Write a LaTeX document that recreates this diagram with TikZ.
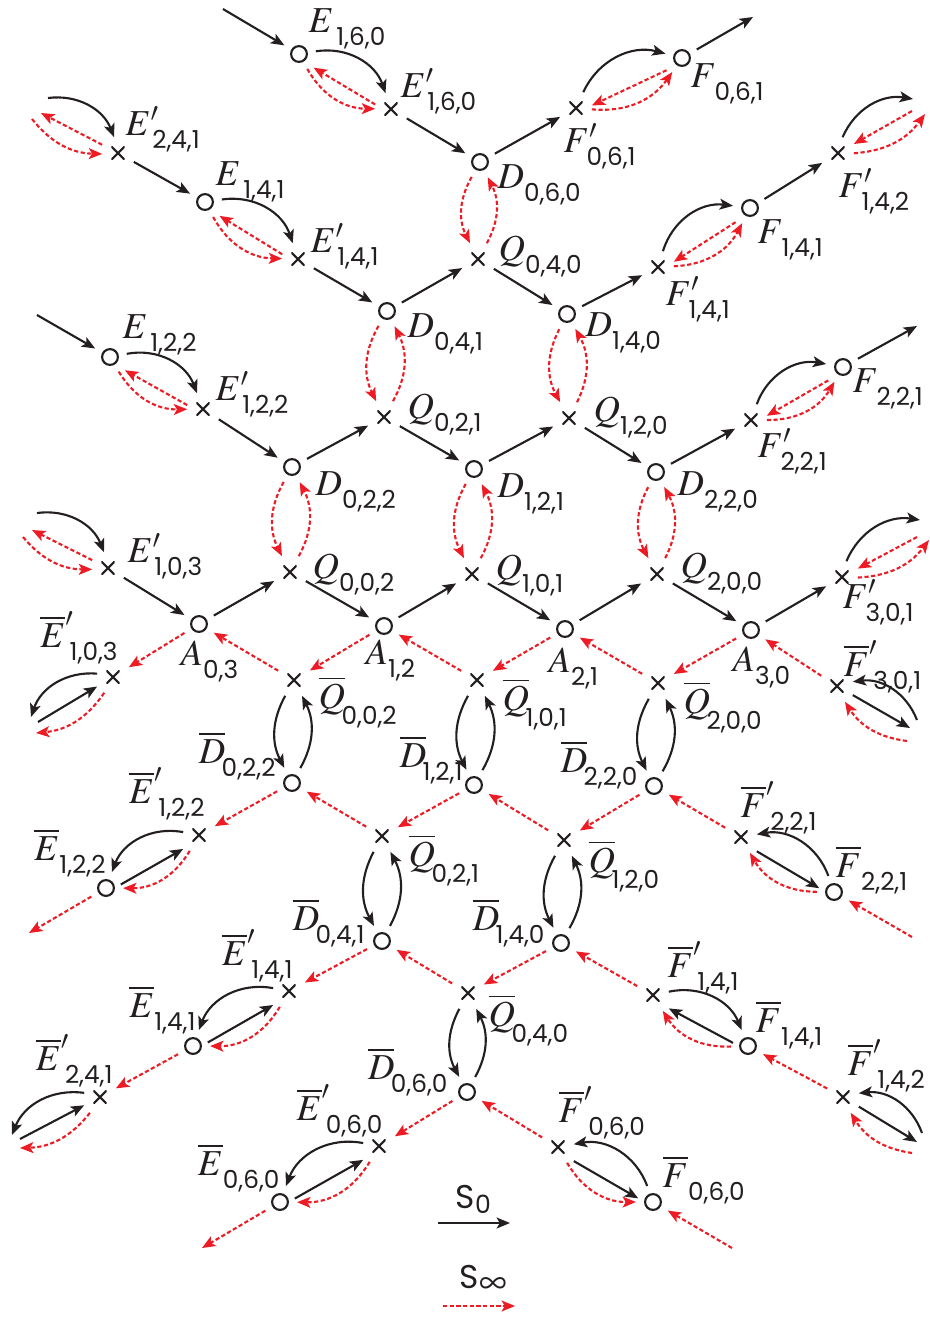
\documentclass[tikz,border=0pt]{standalone}
\usepackage{amsmath}
\usepackage{mathptmx}
\usepackage{fontspec}
\newfontfamily\subsf{Poppins}[Scale=1.1]
\usepackage{tikz}
\usetikzlibrary{arrows.meta}
\usepackage{xcolor}
\definecolor{ink}{RGB}{35,31,32}
\definecolor{sred}{RGB}{237,28,36}
\newcommand{\ix}[2][1.5pt]{\text{\kern#1\raisebox{-2.4pt}{\subsf\fontsize{6.4}{7}\selectfont #2}}}
\newcommand{\ixp}[2][1.2pt]{\text{\kern#1\raisebox{-1.2pt}{\subsf\fontsize{6.4}{7}\selectfont #2}}}

\begin{document}
\begin{tikzpicture}[
    x = 0.01cm, y = -0.01cm,
    every node/.style = {inner sep=0pt},
    st/.style    = {circle, draw=ink, line width=0.6pt, minimum size=4.5pt, outer sep=2.6pt},
    xs/.style    = {rectangle, minimum size=3.8pt, outer sep=2.6pt,
                    path picture={\draw[ink, line width=0.6pt]
                      (path picture bounding box.south west) -- (path picture bounding box.north east)
                      (path picture bounding box.north west) -- (path picture bounding box.south east);}},
    lbl/.style   = {text=ink, font=\fontsize{10.4}{12}\selectfont},
    key/.style   = {text=ink, font=\subsf\fontsize{8.5}{9}\selectfont},
    szero/.style = {-{Stealth[length=3.8pt,width=3.1pt,inset=0.9pt]}, line width=0.6pt, draw=ink},
    sinf/.style  = {szero, draw=sred, dash pattern=on 1.2pt off 0.7pt},
    lower/.style = {transform canvas={yshift=-1.4pt}},
]
\useasboundingbox (0,0) rectangle (930,1320);

%% Upper half: circles and crosses
\node[st] (E160)  at (299,54)  {};
\node[xs] (E160p) at (391,109) {};
\node[st] (D060)  at (480,162) {};
\node[xs] (Q040)  at (478,259) {};
\node[st] (D041)  at (387,311) {};
\node[st] (D140)  at (567,314) {};
\node[xs] (E241p) at (118,153) {};
\node[st] (E141)  at (205,202) {};
\node[xs] (E141p) at (298,259) {};
\node[xs] (F061p) at (576,108) {};
\node[st] (F061)  at (682,58)  {};
\node[xs] (F141p) at (658,267) {};
\node[st] (F141)  at (750,208) {};
\node[xs] (F142p) at (838,153) {};
\node[st] (E122)  at (110,357) {};
\node[xs] (E122p) at (203,409) {};
\node[st] (D022)  at (292,467) {};
\node[xs] (Q021)  at (384,417) {};
\node[st] (D121)  at (474,469) {};
\node[xs] (Q120)  at (569,418) {};
\node[st] (D220)  at (656,472) {};
\node[xs] (F221p) at (751,420) {};
\node[st] (F221)  at (843,367) {};
\node[xs] (E103p) at (108,568) {};
\node[xs] (Q002)  at (290,572) {};
\node[xs] (Q101)  at (472,574) {};
\node[xs] (Q200)  at (657,574) {};
\node[xs] (F301p) at (842,577) {};
\node[st] (A03)   at (199,624) {};
\node[st] (A12)   at (384,626) {};
\node[st] (A21)   at (565,629) {};
\node[st] (A30)   at (751,630) {};

%% Lower half: circles and crosses
\node[xs] (bE103p) at (113,677)  {};
\node[xs] (bQ002)  at (294,680)  {};
\node[xs] (bQ101)  at (477,680)  {};
\node[xs] (bQ200)  at (658,683)  {};
\node[xs] (bF301p) at (837,686)  {};
\node[st] (bD022)  at (292,783)  {};
\node[st] (bD121)  at (474,785)  {};
\node[st] (bD220)  at (654,786)  {};
\node[xs] (bE122p) at (199,835)  {};
\node[xs] (bQ021)  at (382,836)  {};
\node[xs] (bQ120)  at (564,840)  {};
\node[xs] (bF221p) at (741,837)  {};
\node[st] (bE122)  at (106,888)  {};
\node[st] (bF221)  at (834,892)  {};
\node[st] (bD041)  at (382,941)  {};
\node[st] (bD140)  at (561,943)  {};
\node[xs] (bE141p) at (289,991)  {};
\node[xs] (bQ040)  at (468,993)  {};
\node[xs] (bF141p) at (653,995)  {};
\node[st] (bE141)  at (193,1046) {};
\node[st] (bF141)  at (748,1046) {};
\node[xs] (bE241p) at (100,1097) {};
\node[st] (bD060)  at (467,1092) {};
\node[xs] (bF142p) at (843,1097) {};
\node[xs] (bE060p) at (379,1146) {};
\node[xs] (bF060p) at (558,1147) {};
\node[st] (bE060)  at (280,1202) {};
\node[st] (bF060)  at (653,1202) {};

%% Free ends
\coordinate (inE160)  at (223,9);
\coordinate (fE241a)  at (48,98);
\coordinate (fE241b)  at (41,113);
\coordinate (fE241c)  at (32,119);
\coordinate (outF061) at (753,17);
\coordinate (fF142a)  at (913,99);
\coordinate (fF142b)  at (912,111);
\coordinate (fF142c)  at (925,114);
\coordinate (inE122)  at (37,315);
\coordinate (outF221) at (917,326);
\coordinate (fE103a)  at (37,513);
\coordinate (fE103b)  at (32,530);
\coordinate (fE103c)  at (23,537);
\coordinate (fF301a)  at (920,520);
\coordinate (fF301b)  at (917,537);
\coordinate (fF301c)  at (929,540);
\coordinate (fbE103a) at (31,717);
\coordinate (fbE103b) at (38,722);
\coordinate (fbE103c) at (36,733);
\coordinate (outbE122) at (29,933);
\coordinate (fbF301a) at (917,720);
\coordinate (fbF301b) at (910,728);
\coordinate (fbF301c) at (907,741);
\coordinate (inbF221) at (912,937);
\coordinate (fbE241a) at (12,1135);
\coordinate (fbE241b) at (20,1139);
\coordinate (fbE241c) at (20,1148);
\coordinate (fbF142a) at (922,1133);
\coordinate (fbF142b) at (917,1142);
\coordinate (fbF142c) at (912,1153);
\coordinate (outbE060) at (202,1248);
\coordinate (inbF060) at (732,1248);

%% Labels, upper half
\node[lbl, anchor=base west] (lE160)  at ([shift={(9,-22)}]E160.center)  {$E_{\ix{1,6,0}}$};
\node[lbl, anchor=base west] (lE160p) at ([shift={(9,-12)}]E160p.center) {$E'_{\ixp{1,6,0}}$};
\node[lbl, anchor=base west] (lD060)  at ([shift={(17,26)}]D060.center)  {$D_{\ix[0pt]{0,6,0}}$};
\node[lbl, anchor=base west] (lQ040)  at ([shift={(20,1)}]Q040.center)   {$Q_{\ix[0pt]{0,4,0}}$};
\node[lbl, anchor=base west] (lD041)  at ([shift={(20,26)}]D041.center)  {$D_{\ix[0pt]{0,4,1}}$};
\node[lbl, anchor=base west] (lD140)  at ([shift={(18,22)}]D140.center)  {$D_{\ix[0pt]{1,4,0}}$};
\node[lbl, anchor=base west] (lE241p) at ([shift={(7,-18)}]E241p.center) {$E'_{\ixp{2,4,1}}$};
\node[lbl, anchor=base west] (lE141)  at ([shift={(10,-17)}]E141.center) {$E_{\ix{1,4,1}}$};
\node[lbl, anchor=base west] (lE141p) at ([shift={(12,-7)}]E141p.center) {$E'_{\ixp{1,4,1}}$};
\node[lbl, anchor=base west] (lF061p) at ([shift={(-13,44)}]F061p.center) {$F'_{\ixp{0,6,1}}$};
\node[lbl, anchor=base west] (lF061)  at ([shift={(8,29)}]F061.center)   {$F_{\ix{0,6,1}}$};
\node[lbl, anchor=base west] (lF141p) at ([shift={(7,38)}]F141p.center)  {$F'_{\ixp{1,4,1}}$};
\node[lbl, anchor=base west] (lF141)  at ([shift={(7,35)}]F141.center)   {$F_{\ix{1,4,1}}$};
\node[lbl, anchor=base west] (lF142p) at ([shift={(0,44)}]F142p.center)  {$F'_{\ixp{1,4,2}}$};
\node[lbl, anchor=base west] (lE122)  at ([shift={(12,-19)}]E122.center) {$E_{\ix{1,2,2}}$};
\node[lbl, anchor=base west] (lE122p) at ([shift={(12,-9)}]E122p.center) {$E'_{\ixp{1,2,2}}$};
\node[lbl, anchor=base west] (lD022)  at ([shift={(23,28)}]D022.center)  {$D_{\ix[0pt]{0,2,2}}$};
\node[lbl, anchor=base west] (lQ021)  at ([shift={(23,1)}]Q021.center)   {$Q_{\ix[0pt]{0,2,1}}$};
\node[lbl, anchor=base west] (lD121)  at ([shift={(23,28)}]D121.center)  {$D_{\ix[0pt]{1,2,1}}$};
\node[lbl, anchor=base west] (lQ120)  at ([shift={(24,3)}]Q120.center)   {$Q_{\ix[0pt]{1,2,0}}$};
\node[lbl, anchor=base west] (lD220)  at ([shift={(21,23)}]D220.center)  {$D_{\ix[0pt]{2,2,0}}$};
\node[lbl, anchor=base west] (lF221p) at ([shift={(6,37)}]F221p.center)  {$F'_{\ixp{2,2,1}}$};
\node[lbl, anchor=base west] (lF221)  at ([shift={(9,25)}]F221.center)   {$F_{\ix{2,2,1}}$};
\node[lbl, anchor=base west] (lE103p) at ([shift={(19,-6)}]E103p.center) {$E'_{\ixp{1,0,3}}$};
\node[lbl, anchor=base west] (lQ002)  at ([shift={(22,6)}]Q002.center)   {$Q_{\ix[0pt]{0,0,2}}$};
\node[lbl, anchor=base west] (lQ101)  at ([shift={(23,5)}]Q101.center)   {$Q_{\ix[0pt]{1,0,1}}$};
\node[lbl, anchor=base west] (lQ200)  at ([shift={(23,3)}]Q200.center)   {$Q_{\ix[0pt]{2,0,0}}$};
\node[lbl, anchor=base west] (lF301p) at ([shift={(0,31)}]F301p.center)  {$F'_{\ixp{3,0,1}}$};
\node[lbl, anchor=base west] (lA03)   at ([shift={(-19,41)}]A03.center)  {$A_{\ix[0pt]{0,3}}$};
\node[lbl, anchor=base west] (lA12)   at ([shift={(-19,38)}]A12.center)  {$A_{\ix[0pt]{1,2}}$};
\node[lbl, anchor=base west] (lA21)   at ([shift={(-17,43)}]A21.center)  {$A_{\ix[0pt]{2,1}}$};
\node[lbl, anchor=base west] (lA30)   at ([shift={(-19,41)}]A30.center)  {$A_{\ix[0pt]{3,0}}$};

%% Labels, lower half
\node[lbl, anchor=base east] (lbE103p) at ([shift={(7,-30)}]bE103p.center)  {$\overline{E}'_{\ixp{1,0,3}}$};
\node[lbl, anchor=base west] (lbQ002)  at ([shift={(24,28)}]bQ002.center)   {$\overline{Q}_{\ix[-1pt]{0,0,2}}$};
\node[lbl, anchor=base west] (lbQ101)  at ([shift={(25,30)}]bQ101.center)   {$\overline{Q}_{\ix[-1pt]{1,0,1}}$};
\node[lbl, anchor=base west] (lbQ200)  at ([shift={(25,30)}]bQ200.center)   {$\overline{Q}_{\ix[-1pt]{2,0,0}}$};
\node[lbl, anchor=base west] (lbF301p) at ([shift={(6,-10)}]bF301p.center)  {$\overline{F}'_{\ixp{3,0,1}}$};
\node[lbl, anchor=base east] (lbD022)  at ([shift={(-14,-20)}]bD022.center) {$\overline{D}_{\ix[-1pt]{0,2,2}}$};
\node[lbl, anchor=base east] (lbD121)  at ([shift={(-9,-18)}]bD121.center)  {$\overline{D}_{\ix[-1pt]{1,2,1}}$};
\node[lbl, anchor=base east] (lbD220)  at ([shift={(-14,-14)}]bD220.center) {$\overline{D}_{\ix[-1pt]{2,2,0}}$};
\node[lbl, anchor=base east] (lbE122p) at ([shift={(8,-32)}]bE122p.center)  {$\overline{E}'_{\ixp{1,2,2}}$};
\node[lbl, anchor=base east] (lbE122)  at ([shift={(2,-28)}]bE122.center)   {$\overline{E}_{\ix[0pt]{1,2,2}}$};
\node[lbl, anchor=base west] (lbQ021)  at ([shift={(26,30)}]bQ021.center)   {$\overline{Q}_{\ix[-1pt]{0,2,1}}$};
\node[lbl, anchor=base west] (lbQ120)  at ([shift={(24,32)}]bQ120.center)   {$\overline{Q}_{\ix[-1pt]{1,2,0}}$};
\node[lbl, anchor=base west] (lbF221p) at ([shift={(-1,-20)}]bF221p.center) {$\overline{F}'_{\ixp{2,2,1}}$};
\node[lbl, anchor=base west] (lbF221)  at ([shift={(1,-15)}]bF221.center)   {$\overline{F}_{\ix[0pt]{2,2,1}}$};
\node[lbl, anchor=base east] (lbD041)  at ([shift={(-15,-11)}]bD041.center) {$\overline{D}_{\ix[-1pt]{0,4,1}}$};
\node[lbl, anchor=base east] (lbD140)  at ([shift={(-14,-13)}]bD140.center) {$\overline{D}_{\ix[-1pt]{1,4,0}}$};
\node[lbl, anchor=base east] (lbE141p) at ([shift={(6,-26)}]bE141p.center)  {$\overline{E}'_{\ixp{1,4,1}}$};
\node[lbl, anchor=base east] (lbE141)  at ([shift={(5,-29)}]bE141.center)   {$\overline{E}_{\ix[0pt]{1,4,1}}$};
\node[lbl, anchor=base east] (lbE241p) at ([shift={(15,-27)}]bE241p.center) {$\overline{E}'_{\ixp{2,4,1}}$};
\node[lbl, anchor=base west] (lbQ040)  at ([shift={(20,33)}]bQ040.center)   {$\overline{Q}_{\ix[-1pt]{0,4,0}}$};
\node[lbl, anchor=base east] (lbD060)  at ([shift={(-17,-13)}]bD060.center) {$\overline{D}_{\ix[-1pt]{0,6,0}}$};
\node[lbl, anchor=base west] (lbF141p) at ([shift={(14,-18)}]bF141p.center) {$\overline{F}'_{\ixp{1,4,1}}$};
\node[lbl, anchor=base west] (lbF141)  at ([shift={(7,-14)}]bF141.center)   {$\overline{F}_{\ix[0pt]{1,4,1}}$};
\node[lbl, anchor=base west] (lbF142p) at ([shift={(4,-22)}]bF142p.center)  {$\overline{F}'_{\ixp{1,4,2}}$};
\node[lbl, anchor=base east] (lbE060p) at ([shift={(6,-26)}]bE060p.center)  {$\overline{E}'_{\ixp{0,6,0}}$};
\node[lbl, anchor=base east] (lbE060)  at ([shift={(2,-27)}]bE060.center)   {$\overline{E}_{\ix[0pt]{0,6,0}}$};
\node[lbl, anchor=base west] (lbF060p) at ([shift={(0,-25)}]bF060p.center)  {$\overline{F}'_{\ixp{0,6,0}}$};
\node[lbl, anchor=base west] (lbF060)  at ([shift={(9,-15)}]bF060.center)   {$\overline{F}_{\ix[0pt]{0,6,0}}$};

%% Upper half: S_0 along the lattice
\draw[szero] (inE160) -- (E160);
\draw[szero] (E160p) -- (D060);
\draw[szero] (D060) -- (F061p);
\draw[szero] (F061) -- (outF061);
\draw[szero] (Q040) -- (D140);
\draw[szero] (D041) -- (Q040);
\draw[szero] (E141p) -- (D041);
\draw[szero] (E241p) -- (E141);
\draw[szero] (D140) -- (F141p);
\draw[szero] (F141) -- (F142p);
\draw[szero] (inE122) -- (E122);
\draw[szero] (E122p) -- (D022);
\draw[szero] (D022) -- (Q021);
\draw[szero] (Q021) -- (D121);
\draw[szero] (D121) -- (Q120);
\draw[szero] (Q120) -- (D220);
\draw[szero] (D220) -- (F221p);
\draw[szero] (F221) -- (outF221);
\draw[szero] (E103p) -- (A03);
\draw[szero] (A03) -- (Q002);
\draw[szero] (Q002) -- (A12);
\draw[szero] (A12) -- (Q101);
\draw[szero] (Q101) -- (A21);
\draw[szero] (A21) -- (Q200);
\draw[szero] (Q200) -- (A30);
\draw[szero] (A30) -- (F301p);

%% Upper half: S_inf lenses on the vertical edges
\draw[sinf] (D060) to[bend right=28] (Q040);
\draw[sinf] (Q040) to[bend right=28] (D060);
\draw[sinf] (D041) to[bend right=28] (Q021);
\draw[sinf] (Q021) to[bend right=28] (D041);
\draw[sinf] (D140) to[bend right=28] (Q120);
\draw[sinf] (Q120) to[bend right=28] (D140);
\draw[sinf] (D022) to[bend right=28] (Q002);
\draw[sinf] (Q002) to[bend right=28] (D022);
\draw[sinf] (D121) to[bend right=28] (Q101);
\draw[sinf] (Q101) to[bend right=28] (D121);
\draw[sinf] (D220) to[bend right=28] (Q200);
\draw[sinf] (Q200) to[bend right=28] (D220);

%% Upper half: E branches
\draw[szero] (E160) to[bend left=40] (E160p);
\draw[sinf, lower] (E160p) -- (E160);
\draw[sinf] (E160) to[bend right=30] (E160p);
\draw[szero] (E141) to[bend left=40] (E141p);
\draw[sinf, lower] (E141p) -- (E141);
\draw[sinf] (E141) to[bend right=30] (E141p);
\draw[szero] (E122) to[bend left=40] (E122p);
\draw[sinf, lower] (E122p) -- (E122);
\draw[sinf] (E122) to[bend right=30] (E122p);
\draw[szero] (fE241a) to[bend left=38] (E241p);
\draw[sinf] (E241p) -- (fE241b);
\draw[sinf] (fE241c) to[bend right=25] (E241p);
\draw[szero] (fE103a) to[bend left=38] (E103p);
\draw[sinf] (E103p) -- (fE103b);
\draw[sinf] (fE103c) to[bend right=25] (E103p);

%% Upper half: F branches
\draw[szero] (F061p) to[bend left=40] (F061);
\draw[sinf, lower] (F061) -- (F061p);
\draw[sinf] (F061p) to[bend right=30] (F061);
\draw[szero] (F141p) to[bend left=40] (F141);
\draw[sinf, lower] (F141) -- (F141p);
\draw[sinf] (F141p) to[bend right=30] (F141);
\draw[szero] (F221p) to[bend left=40] (F221);
\draw[sinf, lower] (F221) -- (F221p);
\draw[sinf] (F221p) to[bend right=30] (F221);
\draw[szero] (F142p) to[bend left=38] (fF142a);
\draw[sinf] (fF142b) -- (F142p);
\draw[sinf] (F142p) to[bend right=25] (fF142c);
\draw[szero] (F301p) to[bend left=38] (fF301a);
\draw[sinf] (fF301b) -- (F301p);
\draw[sinf] (F301p) to[bend right=25] (fF301c);

%% Lower half: S_inf along the lattice
\draw[sinf] (A03) -- (bE103p);
\draw[sinf] (bQ002) -- (A03);
\draw[sinf] (A12) -- (bQ002);
\draw[sinf] (bQ101) -- (A12);
\draw[sinf] (A21) -- (bQ101);
\draw[sinf] (bQ200) -- (A21);
\draw[sinf] (A30) -- (bQ200);
\draw[sinf] (bF301p) -- (A30);
\draw[sinf] (bD022) -- (bE122p);
\draw[sinf] (bQ021) -- (bD022);
\draw[sinf] (bD121) -- (bQ021);
\draw[sinf] (bQ120) -- (bD121);
\draw[sinf] (bD220) -- (bQ120);
\draw[sinf] (bF221p) -- (bD220);
\draw[sinf] (inbF221) -- (bF221);
\draw[sinf] (bE122) -- (outbE122);
\draw[sinf] (bD041) -- (bE141p);
\draw[sinf] (bQ040) -- (bD041);
\draw[sinf] (bD140) -- (bQ040);
\draw[sinf] (bF141p) -- (bD140);
\draw[sinf] (bF142p) -- (bF141);
\draw[sinf] (bE141) -- (bE241p);
\draw[sinf] (bD060) -- (bE060p);
\draw[sinf] (bF060p) -- (bD060);
\draw[sinf] (inbF060) -- (bF060);
\draw[sinf] (bE060) -- (outbE060);

%% Lower half: S_0 lenses on the vertical edges
\draw[szero] (bQ002) to[bend right=28] (bD022);
\draw[szero] (bD022) to[bend right=28] (bQ002);
\draw[szero] (bQ101) to[bend right=28] (bD121);
\draw[szero] (bD121) to[bend right=28] (bQ101);
\draw[szero] (bQ200) to[bend right=28] (bD220);
\draw[szero] (bD220) to[bend right=28] (bQ200);
\draw[szero] (bQ021) to[bend right=28] (bD041);
\draw[szero] (bD041) to[bend right=28] (bQ021);
\draw[szero] (bQ120) to[bend right=28] (bD140);
\draw[szero] (bD140) to[bend right=28] (bQ120);
\draw[szero] (bQ040) to[bend right=28] (bD060);
\draw[szero] (bD060) to[bend right=28] (bQ040);

%% Lower half: E branches
\draw[szero] (bE122p) to[bend right=40] (bE122);
\draw[szero, lower] (bE122) -- (bE122p);
\draw[sinf] (bE122p) to[bend left=30] (bE122);
\draw[szero] (bE141p) to[bend right=40] (bE141);
\draw[szero, lower] (bE141) -- (bE141p);
\draw[sinf] (bE141p) to[bend left=30] (bE141);
\draw[szero] (bE060p) to[bend right=40] (bE060);
\draw[szero, lower] (bE060) -- (bE060p);
\draw[sinf] (bE060p) to[bend left=30] (bE060);
\draw[szero] (bE103p) to[bend right=38] (fbE103a);
\draw[szero] (fbE103b) -- (bE103p);
\draw[sinf] (bE103p) to[bend left=25] (fbE103c);
\draw[szero] (bE241p) to[bend right=38] (fbE241a);
\draw[szero] (fbE241b) -- (bE241p);
\draw[sinf] (bE241p) to[bend left=25] (fbE241c);

%% Lower half: F branches
\draw[szero] (bF221) to[bend right=40] (bF221p);
\draw[szero, lower] (bF221p) -- (bF221);
\draw[sinf] (bF221) to[bend left=30] (bF221p);
\draw[szero] (bF141p) to[bend left=40] (bF141);
\draw[szero, lower] (bF141) -- (bF141p);
\draw[sinf] (bF141) to[bend left=30] (bF141p);
\draw[szero] (bF060) to[bend right=40] (bF060p);
\draw[szero, lower] (bF060p) -- (bF060);
\draw[sinf] (bF060p) to[bend right=30] (bF060);
\draw[szero] (fbF301a) to[bend right=38] (bF301p);
\draw[szero] (bF301p) -- (fbF301b);
\draw[sinf] (fbF301c) to[bend left=25] (bF301p);
\draw[szero] (fbF142a) to[bend right=38] (bF142p);
\draw[szero] (bF142p) -- (fbF142b);
\draw[sinf] (fbF142c) to[bend left=25] (bF142p);

%% Legend
\node[key, anchor=base west] (kS0) at (455,1208) {S\raisebox{-1.5pt}{\fontsize{6.5}{7}\selectfont 0}};
\coordinate (k0a) at (438,1223);
\coordinate (k0b) at (510,1223);
\draw[szero] (k0a) -- (k0b);
\node[key, anchor=base west] (kSi) at (459,1288) {S\raisebox{-1.5pt}{\fontsize{11}{12}\selectfont$\infty$}};
\coordinate (kia) at (443,1306);
\coordinate (kib) at (515,1306);
\draw[sinf] (kia) -- (kib);

\end{tikzpicture}
\end{document}
